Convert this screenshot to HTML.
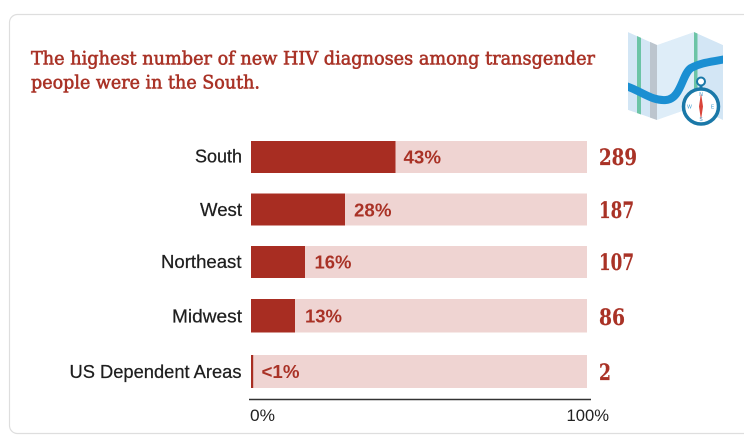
<!DOCTYPE html>
<html>
<head>
<meta charset="utf-8">
<style>
  html,body{margin:0;padding:0;background:#fff;}
  body{width:744px;height:448px;overflow:hidden;}
  svg{display:block;}
</style>
</head>
<body>
<svg width="744" height="448" viewBox="0 0 744 448" xmlns="http://www.w3.org/2000/svg">
  <defs>
    <clipPath id="mapclip">
      <polygon points="628,32 657,45 694,32 723,45 723,120 694,107 657,120 628,110"/>
    </clipPath>
  </defs>
  <rect x="0" y="0" width="744" height="448" fill="#fff"/>
  <!-- card -->
  <rect x="9.5" y="14.5" width="780" height="419" rx="8" ry="8" fill="#fff" stroke="#dedede" stroke-width="1.2"/>

  <!-- title -->
  <g font-family="'DejaVu Serif', 'Liberation Serif', serif" font-size="18.5" fill="#a93226" stroke="#a93226" stroke-width="0.6">
    <text x="31" y="64.5" textLength="564" lengthAdjust="spacingAndGlyphs">The highest number of new HIV diagnoses among transgender</text>
    <text x="31" y="88.5" textLength="229" lengthAdjust="spacingAndGlyphs">people were in the South.</text>
  </g>

  <!-- map icon -->
  <g clip-path="url(#mapclip)">
    <polygon points="628,32 657,45 657,120 628,110" fill="#d3e6f5"/>
    <polygon points="657,45 694,32 694,107 657,120" fill="#deedf8"/>
    <polygon points="694,32 723,45 723,120 694,107" fill="#d3e6f5"/>
    <rect x="637" y="20" width="4" height="110" fill="#6cc4a6"/>
    <rect x="650" y="20" width="7" height="110" fill="#bcc5ce"/>
    <rect x="694" y="20" width="3.5" height="110" fill="#6cc4a6"/>
    <path d="M626,86 C643,92 652,101 666,100 C681,99 682,74 691,68 C702,62 712,62 726,59" fill="none" stroke="#1b8fd2" stroke-width="8"/>
  </g>
  <!-- compass -->
  <g>
    <rect x="699.5" y="84" width="3" height="5" fill="#1a78a8"/>
    <circle cx="701" cy="81.5" r="4" fill="#fff" stroke="#1a78a8" stroke-width="2"/>
    <circle cx="701" cy="106.5" r="17.5" fill="#fff" stroke="#1a78a8" stroke-width="3.5"/>
    <polygon points="701,93 703,106.5 701,120 699,106.5" fill="#d9443a"/>
    <g font-family="'Liberation Sans', sans-serif" font-size="5" fill="#3a9ad0" text-anchor="middle">
      <text x="701" y="96">N</text>
      <text x="701" y="121">S</text>
      <text x="689.5" y="108.5">W</text>
      <text x="712.5" y="108.5">E</text>
    </g>
  </g>

  <!-- bars -->
  <g>
    <rect x="251" y="141" width="336" height="32" fill="#efd4d2"/>
    <rect x="251" y="141" width="144.5" height="32" fill="#a82d22"/>

    <rect x="251" y="193.5" width="336" height="32" fill="#efd4d2"/>
    <rect x="251" y="193.5" width="94" height="32" fill="#a82d22"/>

    <rect x="251" y="246" width="336" height="32" fill="#efd4d2"/>
    <rect x="251" y="246" width="54" height="32" fill="#a82d22"/>

    <rect x="251" y="299" width="336" height="33.5" fill="#efd4d2"/>
    <rect x="251" y="299" width="44" height="33.5" fill="#a82d22"/>

    <rect x="251" y="355" width="336" height="33" fill="#efd4d2"/>
    <rect x="251" y="355" width="2.2" height="33" fill="#a82d22"/>
  </g>

  <!-- category labels -->
  <g font-family="'Liberation Sans', sans-serif" font-size="18" fill="#1e1e1e" stroke="#1e1e1e" stroke-width="0.25" text-anchor="end">
    <text x="242" y="162.5" textLength="47" lengthAdjust="spacingAndGlyphs">South</text>
    <text x="242" y="216" textLength="42" lengthAdjust="spacingAndGlyphs">West</text>
    <text x="241.5" y="268" textLength="80.5" lengthAdjust="spacingAndGlyphs">Northeast</text>
    <text x="242" y="322.5" textLength="70" lengthAdjust="spacingAndGlyphs">Midwest</text>
    <text x="241.5" y="378" textLength="172" lengthAdjust="spacingAndGlyphs">US Dependent Areas</text>
  </g>

  <!-- percent labels -->
  <g font-family="'Liberation Sans', sans-serif" font-size="18" font-weight="bold" fill="#a93226">
    <text x="403.5" y="163.5" textLength="37.5" lengthAdjust="spacingAndGlyphs">43%</text>
    <text x="354" y="216.5" textLength="37.5" lengthAdjust="spacingAndGlyphs">28%</text>
    <text x="314.5" y="268.5" textLength="37" lengthAdjust="spacingAndGlyphs">16%</text>
    <text x="305" y="322.5" textLength="37" lengthAdjust="spacingAndGlyphs">13%</text>
    <text x="261.5" y="378" textLength="38" lengthAdjust="spacingAndGlyphs">&lt;1%</text>
  </g>

  <!-- values -->
  <g font-family="'DejaVu Serif', 'Liberation Serif', serif" font-size="22" font-weight="bold" fill="#a93226" stroke="#a93226" stroke-width="0.2">
    <text x="599" y="165" textLength="38" lengthAdjust="spacingAndGlyphs">289</text>
    <text x="599" y="218" textLength="35" lengthAdjust="spacingAndGlyphs">187</text>
    <text x="599" y="270" textLength="35" lengthAdjust="spacingAndGlyphs">107</text>
    <text x="599" y="325" textLength="26" lengthAdjust="spacingAndGlyphs">86</text>
    <text x="599" y="380" textLength="12" lengthAdjust="spacingAndGlyphs">2</text>
  </g>

  <!-- axis -->
  <line x1="249" y1="399.5" x2="591" y2="399.5" stroke="#333" stroke-width="1.5"/>
  <g font-family="'Liberation Sans', sans-serif" font-size="16.5" fill="#222">
    <text x="250" y="421" textLength="25" lengthAdjust="spacingAndGlyphs">0%</text>
    <text x="609" y="421" text-anchor="end" textLength="42.5" lengthAdjust="spacingAndGlyphs">100%</text>
  </g>
</svg>
</body>
</html>
